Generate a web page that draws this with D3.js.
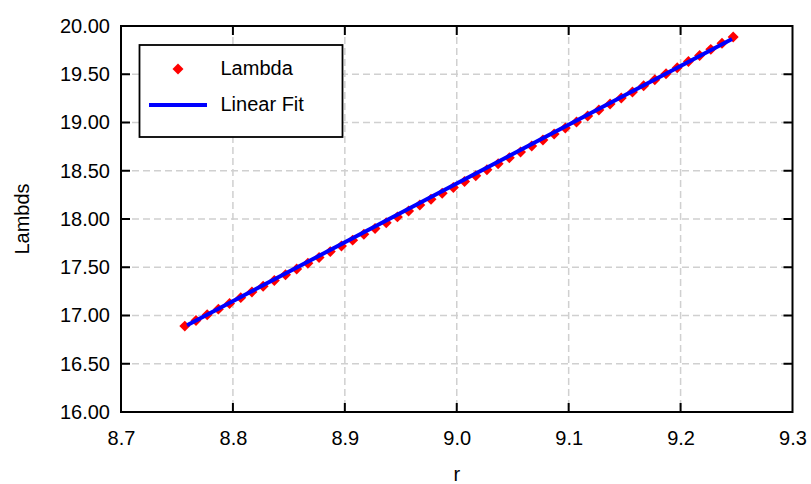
<!DOCTYPE html>
<html>
<head>
<meta charset="utf-8">
<script src="https://cdn.jsdelivr.net/npm/d3@7"></script>
<style>
  html, body { margin: 0; padding: 0; background: #fff; }
  svg { display: block; }
  text { font-family: "Liberation Sans", Arial, sans-serif; fill: #000; }
</style>
</head>
<body>
<svg id="chart" width="811" height="484"></svg>
<script>
// ---- data ----
const rValues = [
  8.757, 8.767, 8.777, 8.787, 8.797, 8.807, 8.817, 8.827, 8.837, 8.847,
  8.857, 8.867, 8.877, 8.887, 8.897, 8.907, 8.917, 8.927, 8.937, 8.947,
  8.957, 8.967, 8.977, 8.987, 8.997, 9.007, 9.017, 9.027, 9.037, 9.047,
  9.057, 9.067, 9.077, 9.087, 9.097, 9.107, 9.117, 9.127, 9.137, 9.147,
  9.157, 9.167, 9.177, 9.187, 9.197, 9.207, 9.217, 9.227, 9.237, 9.247
];
const lambdaValues = [
  16.890, 16.949, 17.007, 17.066, 17.125, 17.185, 17.244, 17.303, 17.363, 17.422,
  17.481, 17.541, 17.601, 17.662, 17.721, 17.781, 17.842, 17.902, 17.962, 18.022,
  18.083, 18.145, 18.205, 18.266, 18.327, 18.388, 18.449, 18.510, 18.572, 18.634,
  18.695, 18.757, 18.819, 18.881, 18.942, 19.005, 19.067, 19.130, 19.192, 19.254,
  19.317, 19.380, 19.442, 19.505, 19.568, 19.632, 19.695, 19.758, 19.822, 19.885
];
const fitR = [8.759, 9.246];
const fitLambda = [16.900, 19.866];
const xTicks = [8.7, 8.8, 8.9, 9.0, 9.1, 9.2, 9.3];
const yTicks = [16.0, 16.5, 17.0, 17.5, 18.0, 18.5, 19.0, 19.5, 20.0];
const legendLabels = ["Lambda", "Linear Fit"];
const xLabel = "r";
const yLabel = "Lambds";

// ---- layout ----
const L = 121, R = 792.5, T = 26, B = 412;
const svg = d3.select("#chart");

const x = d3.scaleLinear().domain([8.7, 9.3]).range([L, R]);
const y = d3.scaleLinear().domain([16, 20]).range([B, T]);

// grid
const grid = svg.append("g").attr("stroke", "#d0d0d0").attr("stroke-width", 1.5)
  .attr("stroke-dasharray", "7,4");
grid.selectAll("line.gx").data(xTicks.slice(1, -1)).enter().append("line")
  .attr("x1", d => x(d)).attr("x2", d => x(d)).attr("y1", T).attr("y2", B);
grid.selectAll("line.gy").data(yTicks.slice(1, -1)).enter().append("line")
  .attr("y1", d => y(d)).attr("y2", d => y(d)).attr("x1", L).attr("x2", R);

// axes: labels via d3 axes, inner ticks drawn explicitly on all four sides
const tickLen = 9;
const fmtX = d3.format(".1f"), fmtY = d3.format(".2f");
function styleAxis(g) {
  g.select(".domain").remove();
  g.selectAll(".tick line").remove();
  g.selectAll(".tick text").style("font-size", "20px")
    .style("font-family", "'Liberation Sans', Arial, sans-serif").attr("fill", "#000");
}
svg.append("g").attr("transform", `translate(0,${B})`)
  .call(d3.axisBottom(x).tickValues(xTicks).tickFormat(fmtX).tickSize(0).tickPadding(19))
  .call(styleAxis);
svg.append("g").attr("transform", `translate(${L},0)`)
  .call(d3.axisLeft(y).tickValues(yTicks).tickFormat(fmtY).tickSize(0).tickPadding(11))
  .call(styleAxis);

const ticks = svg.append("g").attr("stroke", "#000").attr("stroke-width", 2);
const xi = xTicks.slice(1, -1), yi = yTicks.slice(1, -1);
ticks.selectAll("line.tb").data(xi).enter().append("line")
  .attr("x1", d => x(d)).attr("x2", d => x(d)).attr("y1", B).attr("y2", B - tickLen);
ticks.selectAll("line.tt").data(xi).enter().append("line")
  .attr("x1", d => x(d)).attr("x2", d => x(d)).attr("y1", T).attr("y2", T + tickLen);
ticks.selectAll("line.tl").data(yi).enter().append("line")
  .attr("y1", d => y(d)).attr("y2", d => y(d)).attr("x1", L).attr("x2", L + tickLen);
ticks.selectAll("line.tr").data(yi).enter().append("line")
  .attr("y1", d => y(d)).attr("y2", d => y(d)).attr("x1", R).attr("x2", R - tickLen);

// frame
svg.append("rect").attr("x", L).attr("y", T).attr("width", R - L).attr("height", B - T)
  .attr("fill", "none").attr("stroke", "#000").attr("stroke-width", 2);

// axis labels
svg.append("text").attr("x", (L + R) / 2).attr("y", 481).attr("text-anchor", "middle")
  .style("font-size", "20px").text(xLabel);
svg.append("text").attr("transform", `translate(29,${(T + B) / 2}) rotate(-90)`)
  .attr("text-anchor", "middle").style("font-size", "20px").text(yLabel);

// markers
const diamond = d3.symbol().type(d3.symbolSquare).size(60);
const pts = rValues.map((r, i) => ({ r, v: lambdaValues[i] }));
svg.append("g").selectAll("path").data(pts).enter().append("path")
  .attr("d", diamond)
  .attr("transform", d => `translate(${x(d.r)},${y(d.v)}) rotate(45)`)
  .attr("fill", "#ff0000");

// fit line
const fitPts = fitR.map((r, i) => ({ r, v: fitLambda[i] }));
svg.append("path").datum(fitPts)
  .attr("d", d3.line().x(d => x(d.r)).y(d => y(d.v)))
  .attr("fill", "none").attr("stroke", "#0000ff").attr("stroke-width", 4);

// legend
const lg = svg.append("g");
lg.append("rect").attr("x", 139.5).attr("y", 45).attr("width", 203).attr("height", 92)
  .attr("fill", "#fff").attr("stroke", "#000").attr("stroke-width", 1.8);
lg.append("path").attr("d", d3.symbol().type(d3.symbolSquare).size(60))
  .attr("transform", "translate(178,69) rotate(45)").attr("fill", "#ff0000");
lg.append("line").attr("x1", 149).attr("x2", 207).attr("y1", 105).attr("y2", 105)
  .attr("stroke", "#0000ff").attr("stroke-width", 4);
lg.append("text").attr("x", 220.5).attr("y", 75).style("font-size", "20px").text(legendLabels[0]);
lg.append("text").attr("x", 220.5).attr("y", 110.5).style("font-size", "20px").text(legendLabels[1]);
</script>
</body>
</html>
